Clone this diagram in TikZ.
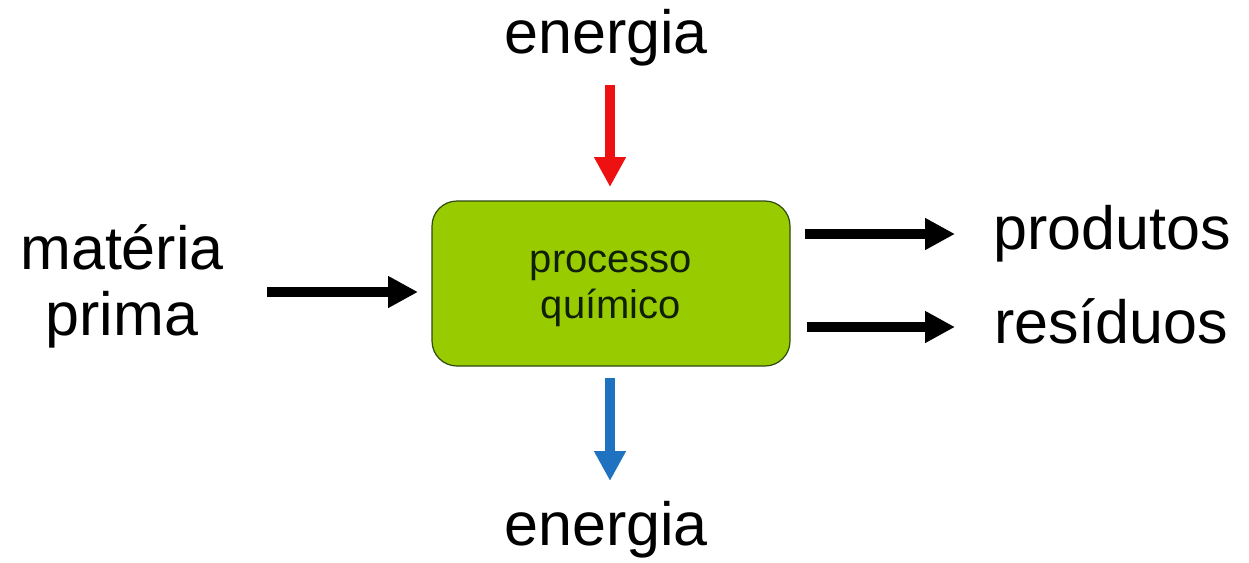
\documentclass[tikz,border=0pt]{standalone}
\usepackage{fontspec}
\setmainfont{Liberation Sans}
\usetikzlibrary{arrows.meta}
\definecolor{boxgreen}{HTML}{99CC00}
\definecolor{boxline}{HTML}{2E4A10}
\definecolor{arrred}{HTML}{EE1111}
\definecolor{arrblue}{HTML}{1F72C0}
\definecolor{boxtext}{HTML}{102008}
\tikzset{
  lbl/.style={anchor=base, inner sep=0pt, font=\fontsize{61}{68}\selectfont},
  flow/.style={line width=10pt, -{Triangle[width=30pt,length=30pt]}},
  procbox/.style={draw=boxline, line width=1.2pt, fill=boxgreen, rounded corners=25pt}
}
\begin{document}
\begin{tikzpicture}[x=1pt,y=-1pt]
\useasboundingbox (0,0) rectangle (1249,562);
\node[procbox, minimum width=358pt, minimum height=165pt, inner sep=0pt] (box) at (611,283.5) {};
\node[anchor=base, inner sep=0pt, text=boxtext, font=\fontsize{40}{46}\selectfont] (t1) at (611,272) {processo};
\node[anchor=base, inner sep=0pt, text=boxtext, font=\fontsize{40}{46}\selectfont] (t2) at (611,318) {químico};
\node[lbl] (etop) at (606,53) {energia};
\node[lbl] (ebot) at (606,545) {energia};
\node[lbl] (mat) at (122,269) {matéria};
\node[lbl] (pri) at (122,335) {prima};
\node[lbl] (prod) at (1112,249) {produtos};
\node[lbl] (res) at (1111,343) {resíduos};
\coordinate (r0) at (610,85);  \coordinate (r1) at (610,187);
\coordinate (b0) at (610,378); \coordinate (b1) at (610,481);
\coordinate (m0) at (267,292); \coordinate (m1) at (418,292);
\coordinate (p0) at (805,234); \coordinate (p1) at (955,234);
\coordinate (s0) at (807,327); \coordinate (s1) at (955,327);
\draw[flow, arrred] (r0) -- (r1);
\draw[flow, arrblue] (b0) -- (b1);
\draw[flow, black] (m0) -- (m1);
\draw[flow, black] (p0) -- (p1);
\draw[flow, black] (s0) -- (s1);
\end{tikzpicture}
\end{document}
